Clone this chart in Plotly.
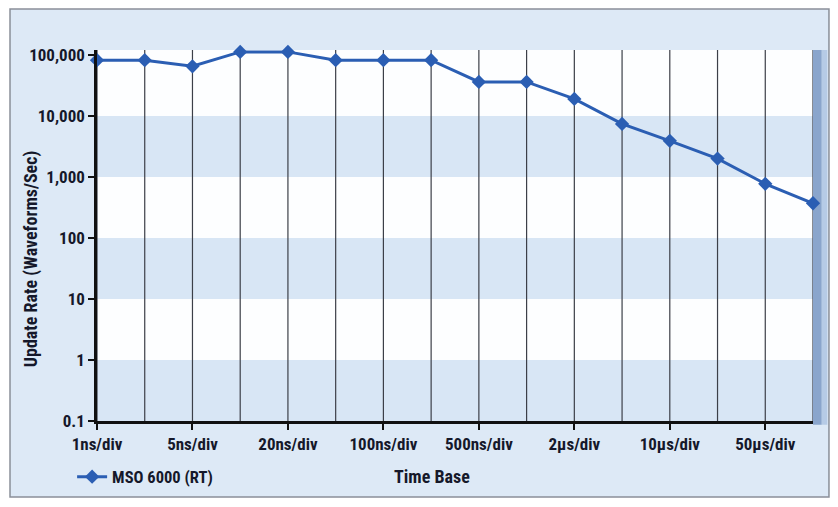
import math
import plotly.graph_objects as go

# ---- data ----
categories = ["1ns/div", "2ns/div", "5ns/div", "10ns/div", "20ns/div", "50ns/div",
              "100ns/div", "200ns/div", "500ns/div", "1µs/div", "2µs/div", "5µs/div",
              "10µs/div", "20µs/div", "50µs/div", "100µs/div"]
update_rate = [82000, 82000, 65000, 112000, 112000, 82000, 82000, 82000,
               36000, 36000, 19000, 7400, 3900, 2000, 770, 370]
x_tick_labels = ["1ns/div", "5ns/div", "20ns/div", "100ns/div",
                 "500ns/div", "2µs/div", "10µs/div", "50µs/div"]
y_tick_values = [0.1, 1, 10, 100, 1000, 10000, 100000]
y_tick_labels = ["0.1", "1", "10", "100", "1,000", "10,000", "100,000"]
band_ranges = [(1000, 10000), (10, 100), (0.1, 1)]
series_name = "MSO 6000 (RT)"

FONT = "Liberation Sans Narrow, Arial Narrow, Roboto Condensed, DejaVu Sans Condensed, sans-serif"
TXT = "#15182a"
LINE = "#2b5eb3"
Y_MIN, Y_MAX = -1.0, 5.08

fig = go.Figure()
fig.add_trace(go.Scatter(
    x=categories, y=update_rate, mode="lines+markers", name=series_name,
    line=dict(color=LINE, width=3),
    marker=dict(symbol="diamond", size=11, color=LINE),
    cliponaxis=False,
))

shapes = []
# outer framed panel
shapes.append(dict(type="rect", xref="paper", yref="paper",
                   x0=-0.1215, x1=1.0223, y0=-0.2049, y1=1.1105,
                   fillcolor="#dde9f6", line=dict(color="#8a8f99", width=1.5),
                   layer="below"))
# plot interior white
shapes.append(dict(type="rect", xref="paper", yref="paper", x0=0, x1=1, y0=0, y1=1,
                   fillcolor="#fdfeff", line=dict(width=0), layer="below"))
# right shadow
shapes.append(dict(type="rect", xref="paper", yref="paper", x0=1.0, x1=1.012, y0=-0.01, y1=1,
                   fillcolor="rgba(70,110,170,0.55)", line=dict(width=0), layer="below"))
shapes.append(dict(type="rect", xref="paper", yref="paper", x0=1.012, x1=1.02, y0=-0.01, y1=1,
                   fillcolor="rgba(110,150,200,0.35)", line=dict(width=0), layer="below"))


def frac(v):
    return (math.log10(v) - Y_MIN) / (Y_MAX - Y_MIN)


for lo, hi in band_ranges:
    shapes.append(dict(type="rect", xref="paper", yref="paper", x0=0, x1=1,
                       y0=frac(lo), y1=frac(hi), fillcolor="#d8e6f5",
                       line=dict(width=0), layer="below"))
# vertical grid lines at each category
for c in categories:
    shapes.append(dict(type="line", xref="x", yref="paper", x0=c, x1=c, y0=0, y1=1,
                       line=dict(color="#3c3f48", width=1.2), layer="below"))

fig.update_layout(
    width=822, height=491,
    margin=dict(l=89, r=17, t=42, b=78, autoexpand=False),
    paper_bgcolor="#ffffff",
    plot_bgcolor="rgba(0,0,0,0)",
    font=dict(family=FONT, size=17, color=TXT, weight="bold"),
    shapes=shapes,
    showlegend=True,
    legend=dict(orientation="h", xref="container", yref="container",
                x=0.078, y=0.045, xanchor="left", yanchor="middle",
                bgcolor="rgba(0,0,0,0)",
                font=dict(family=FONT, size=16.5, color=TXT, weight="bold")),
    xaxis=dict(
        type="category", categoryorder="array", categoryarray=categories,
        range=[0, len(categories) - 1],
        tickvals=x_tick_labels, ticktext=x_tick_labels,
        showgrid=False, zeroline=False, automargin=False,
        showline=True, linecolor="#111111", linewidth=2.5,
        ticks="outside", ticklen=6, tickwidth=1.5, tickcolor="#111111",
        tickfont=dict(family=FONT, size=17, color=TXT, weight="bold"),
    ),
    yaxis=dict(
        type="log", range=[Y_MIN, Y_MAX],
        tickvals=y_tick_values, ticktext=y_tick_labels,
        showgrid=False, zeroline=False, automargin=False,
        showline=True, linecolor="#111111", linewidth=2.5,
        ticks="outside", ticklen=6, tickwidth=1.5, tickcolor="#111111",
        tickfont=dict(family=FONT, size=17, color=TXT, weight="bold"),
    ),
    annotations=[
        dict(text="Time Base", xref="paper", yref="paper", x=0.468, y=-0.15,
             xanchor="center", yanchor="middle", showarrow=False,
             font=dict(family=FONT, size=18, color=TXT, weight="bold")),
        dict(text="Update Rate (Waveforms/Sec)", xref="paper", yref="paper",
             x=-0.093, y=0.437, xanchor="center", yanchor="middle", textangle=-90,
             showarrow=False,
             font=dict(family=FONT, size=18, color=TXT, weight="bold")),
    ],
)

fig.write_html("out.html")
